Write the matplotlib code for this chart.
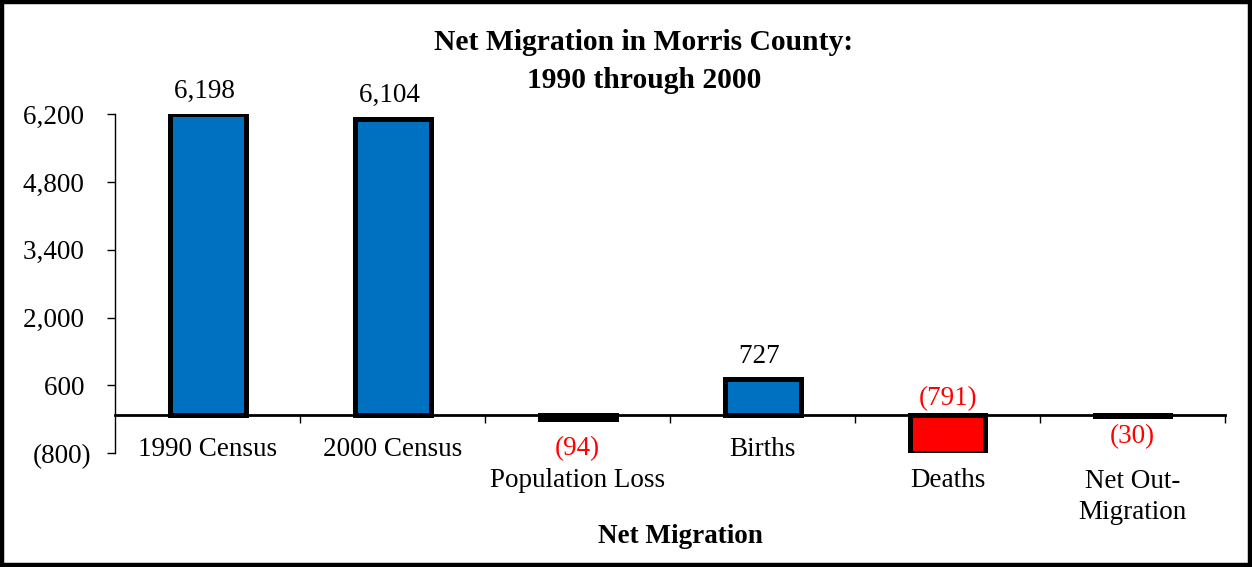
import matplotlib
matplotlib.use('Agg')
import matplotlib.pyplot as plt
from matplotlib.patches import Rectangle
from matplotlib.ticker import FuncFormatter, FixedLocator

categories = ['1990 Census', '2000 Census', 'Population Loss', 'Births', 'Deaths', 'Net Out-\nMigration']
values = [6198, 6104, -94, 727, -791, -30]
colors = ['#0070C0', '#0070C0', '#0070C0', '#0070C0', '#FF0000', '#0070C0']
yticks = [-800, 600, 2000, 3400, 4800, 6200]

plt.rcParams['font.family'] = ['Liberation Serif', 'DejaVu Serif']

W, H = 1252, 567
FS = 19.5
fig = plt.figure(figsize=(W / 100, H / 100), dpi=100)
ax = fig.add_axes([115.3 / W, 1 - 453.3 / H, (1225 - 115.3) / W, (453.3 - 114.3) / H])

x = list(range(len(values)))
ax.bar(x, values, width=0.41, color=colors, edgecolor='black', linewidth=3.6, zorder=3)


def paren(v, pos=None):
    # excel style #,##0_);(#,##0)
    if v < 0:
        return '({:,.0f})'.format(-v)
    return '{:,.0f} '.format(v)


# data labels: positives above bar, negatives placed like the original
offsets = [12, 12, -26, 12, 6.5, -19.5]
for i, v in enumerate(values):
    base = v if v > 0 else (0 if i == 4 else v)
    ax.annotate(paren(v), (i, base), xytext=(0, offsets[i]), textcoords='offset points',
                ha='center', va='baseline', fontsize=FS,
                color='black' if v > 0 else '#FF0000')

# category labels, pushed down one row where a negative label sits under the axis
label_row = [0, 0, 1, 0, 1, 1]
for i, cat in enumerate(categories):
    nlines = cat.count('\n')
    dy = -29.5 - 23 * (label_row[i] + nlines)
    ax.annotate(cat, (i, 0), xytext=(0, dy), textcoords='offset points',
                ha='center', va='baseline', fontsize=FS, linespacing=1.33)

ax.set_xlim(-0.5, len(values) - 0.5)
ax.set_ylim(-800, 6200)
ax.set_yticks(yticks)
ax.yaxis.set_major_formatter(FuncFormatter(paren))
ax.tick_params(axis='y', direction='out', length=6, width=1, pad=11.5, labelsize=FS)

ax.set_xticks([])
ax.xaxis.set_minor_locator(FixedLocator([i + 0.5 for i in x]))
ax.tick_params(axis='x', which='minor', direction='out', length=6, width=1)

ax.spines['top'].set_visible(False)
ax.spines['right'].set_visible(False)
ax.spines['bottom'].set_position(('data', 0))
ax.spines['bottom'].set_linewidth(2)
ax.spines['bottom'].set_zorder(4)
ax.spines['left'].set_linewidth(1)

fig.text(644 / W, 1 - 88 / H, 'Net Migration in Morris County:\n1990 through 2000',
         ha='center', va='baseline', fontsize=21.3, fontweight='bold', linespacing=1.5)
fig.text(680 / W, 1 - 543 / H, 'Net Migration', ha='center', va='baseline',
         fontsize=FS, fontweight='bold')

fig.patches.append(Rectangle((2 / W, 2 / H), 1 - 4 / W, 1 - 4 / H, transform=fig.transFigure,
                             fill=False, edgecolor='black', linewidth=3.2))

fig.savefig('out.png', dpi=100)
